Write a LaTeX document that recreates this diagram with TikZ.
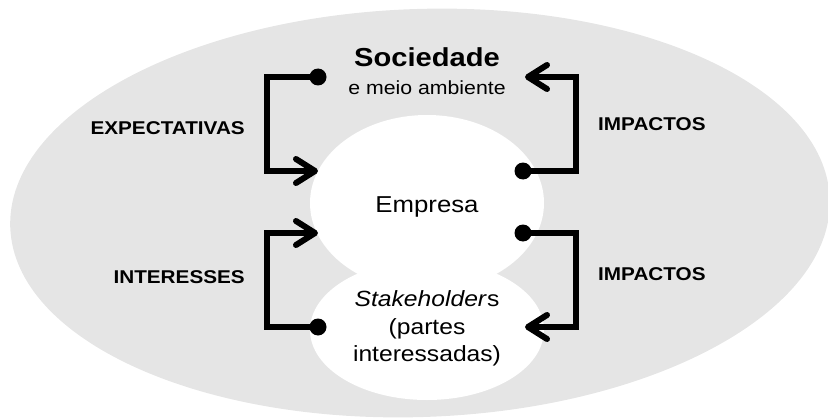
\documentclass[tikz,border=0pt]{standalone}
\usepackage{fontspec}
\setmainfont{Liberation Sans}[FakeStretch=1.12]
\usetikzlibrary{arrows.meta}
\definecolor{bg}{RGB}{229,229,229}
\begin{document}
\begin{tikzpicture}[x=1pt,y=-1pt,
  conn/.style={line width=6pt, line join=miter, -{Straight Barb[length=19pt,width=24pt,round]}},
  dotc/.style={circle, fill=black, inner sep=0pt, minimum size=17pt},
  lbl/.style={font=\fontsize{18.5}{20}\selectfont\bfseries, inner sep=0pt},
  txt/.style={inner sep=0pt, anchor=base},
]
\useasboundingbox (0,0) rectangle (828,420);
\fill[bg, rotate around={2:(420,213)}] (420,213) ellipse [x radius=410pt, y radius=204pt];
\fill[white] (427,203) ellipse [x radius=117pt, y radius=88pt];
\fill[white] (427,330) ellipse [x radius=117pt, y radius=70pt];

\node[txt, font=\fontsize{26}{28}\selectfont\bfseries] (soc) at (427,66.7) {Sociedade};
\node[txt, font=\fontsize{19}{21}\selectfont] (amb) at (427,95) {e meio ambiente};
\node[txt, font=\fontsize{23}{25}\selectfont] (emp) at (427,212) {Empresa};
\node[txt, font=\fontsize{22}{24}\selectfont] (stk1) at (427,306.7) {\textit{Stakeholder}s};
\node[txt, font=\fontsize{22}{24}\selectfont] (stk2) at (427,334) {(partes};
\node[txt, font=\fontsize{22}{24}\selectfont] (stk3) at (427,361.5) {interessadas)};

\node[lbl, anchor=base east] (exp) at (245,134) {EXPECTATIVAS};
\node[lbl, anchor=base east] (int) at (245,283.3) {INTERESSES};
\node[lbl, anchor=base west] (imp1) at (598,130) {IMPACTOS};
\node[lbl, anchor=base west] (imp2) at (598,280) {IMPACTOS};

\coordinate (d1) at (318,77);
\coordinate (c1) at (266.5,77);
\coordinate (a1) at (318,171);
\coordinate (d2) at (318,327);
\coordinate (c2) at (266.5,327);
\coordinate (a2) at (318,233);
\coordinate (d3) at (523,171);
\coordinate (c3) at (576,171);
\coordinate (a3) at (525,77);
\coordinate (d4) at (523,233);
\coordinate (c4) at (576,233);
\coordinate (a4) at (525,327);

\draw[conn] (d1) -- (c1) |- (a1);
\draw[conn] (d2) -- (c2) |- (a2);
\draw[conn] (d3) -- (c3) |- (a3);
\draw[conn] (d4) -- (c4) |- (a4);

\node[dotc] (p1) at (d1) {};
\node[dotc] (p2) at (d2) {};
\node[dotc] (p3) at (d3) {};
\node[dotc] (p4) at (d4) {};
\end{tikzpicture}
\end{document}
